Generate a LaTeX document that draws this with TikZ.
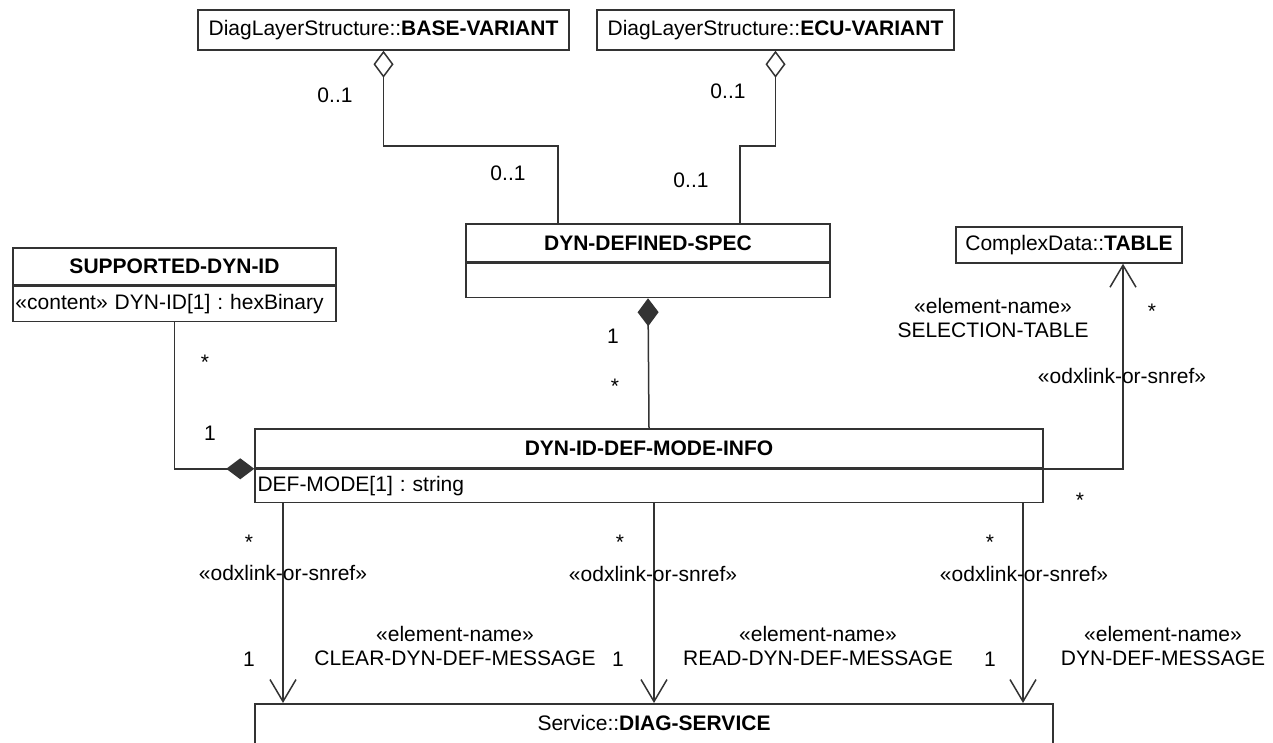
\documentclass[tikz,border=0pt]{standalone}
\usepackage{fontspec}
\setmainfont{Liberation Sans}
\usetikzlibrary{arrows.meta}
\frenchspacing

\begin{document}
\begin{tikzpicture}[x=1pt,y=-1pt,line width=1.5pt,
        font=\fontsize{21}{24}\selectfont,
        cls/.style={draw=black!80,inner sep=0pt},
        attr/.style={draw=black!80,inner xsep=2.5pt,inner ysep=0pt,align=left},
        mult/.style={inner sep=1pt},
        aggr/.style={draw=black!80,{Diamond[open,fill=white,length=27pt,width=20pt]}-},
        comp/.style={draw=black!80,{Diamond[length=28pt,width=21pt]}-},
        nav/.style={draw=black!80,-{Straight Barb[length=22pt,width=26pt]}}]
    \useasboundingbox (0,0) rectangle (1273,742);

    \node[cls,minimum width=371pt,minimum height=40pt] (base) at (383.5,30) {DiagLayerStructure::\textbf{BASE-VARIANT}};
    \node[cls,minimum width=357pt,minimum height=40pt] (ecu) at (775.5,30) {DiagLayerStructure::\textbf{ECU-VARIANT}};
    \node[cls,minimum width=226pt,minimum height=36pt] (table) at (1069,245) {ComplexData::\textbf{TABLE}};

    \node[cls,minimum width=364pt,minimum height=38pt] (spec) at (648,243) {\bfseries DYN-DEFINED-SPEC};
    \node[cls,minimum width=364pt,minimum height=34pt,anchor=north] (specbody) at (spec.south) {};

    \node[cls,minimum width=323pt,minimum height=37pt] (sup) at (174.5,266.5) {\bfseries SUPPORTED-DYN-ID};
    \node[attr,text width=318pt,minimum height=35pt,anchor=north] (supattr) at (sup.south) {«content» DYN-ID[1] : hexBinary};

    \node[cls,minimum width=788pt,minimum height=39pt] (info) at (649,448.5) {\bfseries DYN-ID-DEF-MODE-INFO};
    \node[attr,text width=783pt,minimum height=33pt,anchor=north] (infoattr) at (info.south) {DEF-MODE[1] : string};

    \node[cls,minimum width=798pt,minimum height=46pt,text depth=8pt,anchor=north] (service) at (654,703) {Service::\textbf{DIAG-SERVICE}};

    \draw[aggr] (base.south) -- ++(0,95) -| ([xshift=-90pt]spec.north);
    \draw[aggr] (ecu.south) -- ++(0,95) -| ([xshift=92pt]spec.north);
    \draw[comp] (specbody.south) -- (info.north);
    \draw[comp] (infoattr.north west) -| (supattr.south);
    \draw[nav] (infoattr.north east) -| ([xshift=54pt]table.south);
    \foreach \dx/\n in {-366/l,5/m,374/r} {
        \coordinate (\n) at ([xshift=\dx pt]infoattr.south);
        \draw[nav] (\n) -- (\n |- service.north);
    }

    \node[mult] (b1) at (335,95) {0..1};
    \node[mult] (b2) at (508,173) {0..1};
    \node[mult] (e1) at (728,91) {0..1};
    \node[mult] (e2) at (691,180) {0..1};
    \node[mult] (s1) at (613,336) {1};
    \node[mult] (s2) at (615,386) {*};
    \node[mult] (d1) at (205,362) {*};
    \node[mult] (d2) at (210,433) {1};

    \node[align=center] (tname) at (993,318) {«element-name»\\SELECTION-TABLE};
    \node[mult] (t1) at (1152,311) {*};
    \node (tlink) at (1122,376) {«odxlink-or-snref»};
    \node[mult] (t2) at (1080,500) {*};

    \node[mult] (l1) at (249,542) {*};
    \node (llink) at (283,573) {«odxlink-or-snref»};
    \node[mult] (l2) at (249,659) {1};
    \node[align=center] (lname) at (455,646) {«element-name»\\CLEAR-DYN-DEF-MESSAGE};

    \node[mult] (m1) at (620,542) {*};
    \node (mlink) at (653,574) {«odxlink-or-snref»};
    \node[mult] (m2) at (618,659) {1};
    \node[align=center] (mname) at (818,646) {«element-name»\\READ-DYN-DEF-MESSAGE};

    \node[mult] (r1) at (990,542) {*};
    \node (rlink) at (1024,574) {«odxlink-or-snref»};
    \node[mult] (r2) at (990,659) {1};
    \node[align=center] (rname) at (1163,646) {«element-name»\\DYN-DEF-MESSAGE};
\end{tikzpicture}
\end{document}
